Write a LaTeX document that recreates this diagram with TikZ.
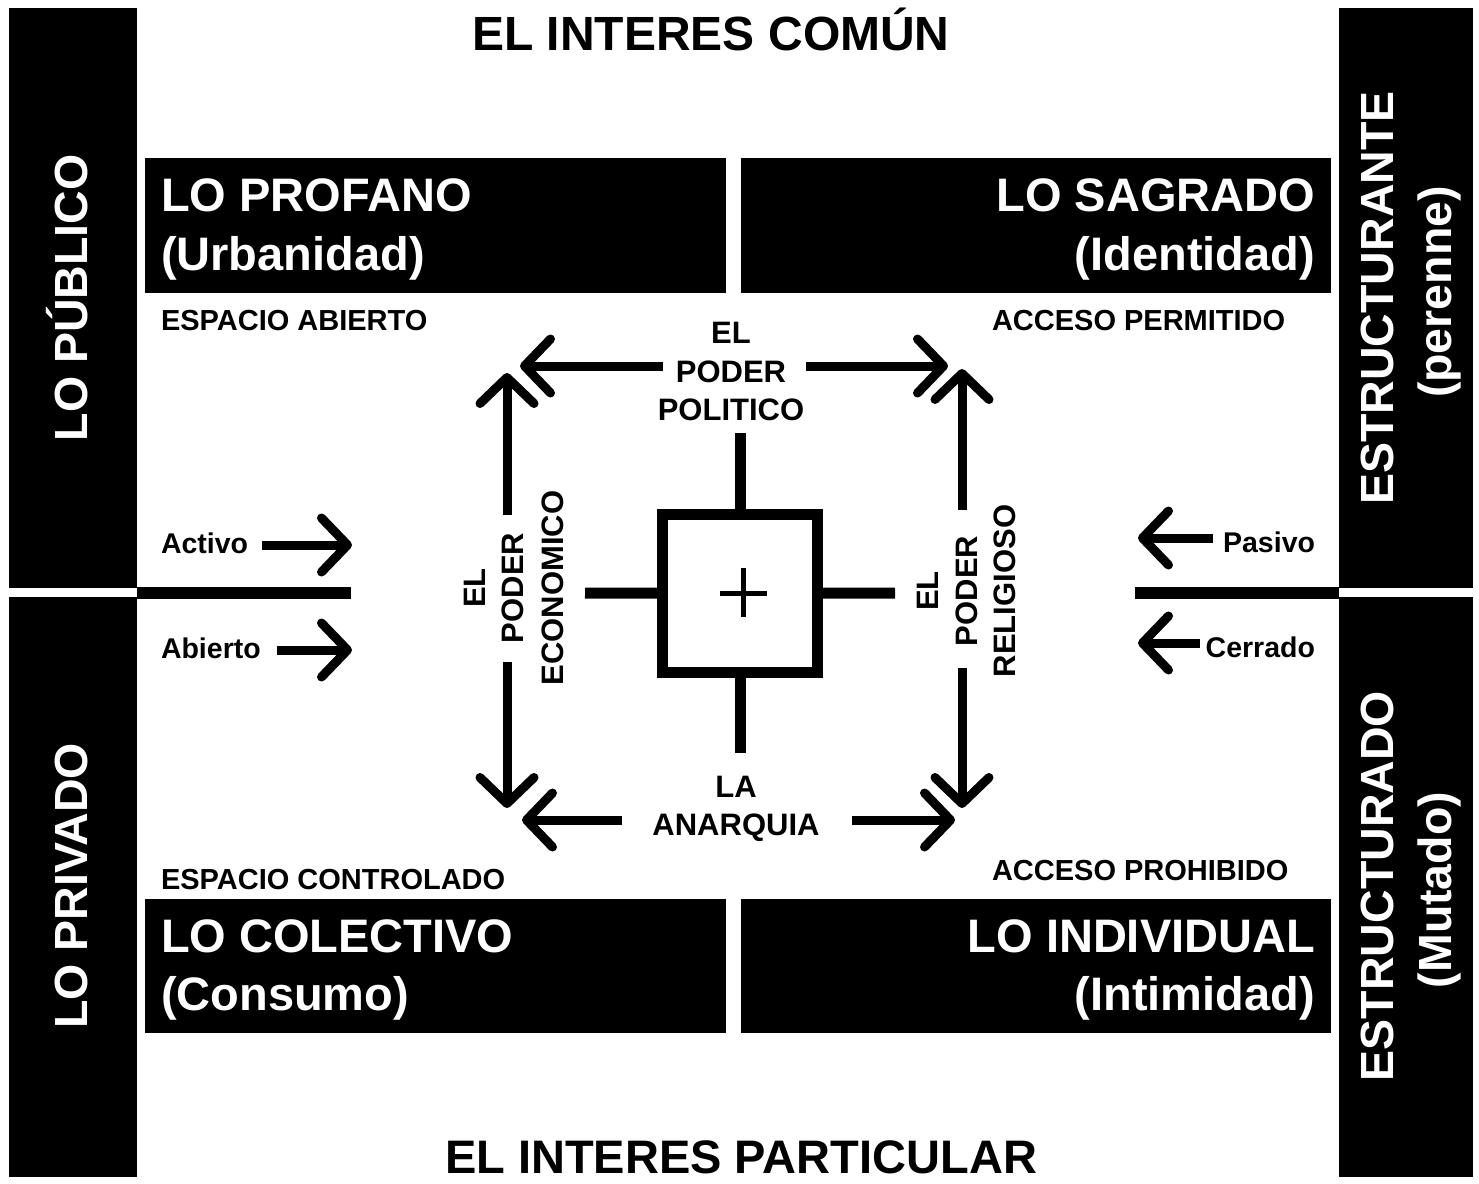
\documentclass[tikz,border=0pt]{standalone}
\usepackage{fontspec}
\setmainfont{Liberation Sans}
\usetikzlibrary{arrows.meta}
\newcommand\fsz[1]{\fontsize{#1}{#1}\selectfont\bfseries}
\begin{document}
\begin{tikzpicture}[x=1pt,y=-1pt,
  every node/.style={inner sep=0pt, outer sep=0pt},
  blk/.style={fill=black, draw=none, anchor=north west},
  big/.style={font=\fsz{47}, text=white},
  bigv/.style={font=\fsz{46.5}, text=white, rotate=90, anchor=base},
  lbl/.style={font=\fsz{29}},
  sml/.style={font=\fsz{28.5}},
  pow/.style={font=\fsz{31}, anchor=base},
  powv/.style={font=\fsz{31}, rotate=90, anchor=base},
  barb/.style={line width=9pt, -{Straight Barb[length=26pt, width=54pt, round]}},
  rule/.style={line width=12pt},
  spoke/.style={line width=11pt}]
\useasboundingbox (0,0) rectangle (1479,1183);
\fill[white] (0,0) rectangle (1479,1183);

% side bars
\node[blk, minimum width=128pt, minimum height=580pt] (barTL) at (9,8) {};
\node[blk, minimum width=128pt, minimum height=580pt] (barBL) at (9,597) {};
\node[blk, minimum width=134pt, minimum height=580pt] (barTR) at (1339,8) {};
\node[blk, minimum width=134pt, minimum height=580pt] (barBR) at (1339,597) {};

\node[bigv] (publico) at (87,298) {LO PÚBLICO};
\node[bigv] (privado) at (87,886) {LO PRIVADO};
\node[bigv] (estante) at (1393,298) {ESTRUCTURANTE};
\node[bigv] (perenne) at (1451,292) {(perenne)};
\node[bigv] (estado) at (1393,886) {ESTRUCTURADO};
\node[bigv] (mutado) at (1451,890) {(Mutado)};

% titles
\node[font=\fsz{48}, anchor=base] (comun) at (711,50) {EL INTERES COMÚN};
\node[font=\fsz{47}, anchor=base] (particular) at (741,1173) {EL INTERES PARTICULAR};

% quadrant boxes
\node[blk, minimum width=581pt, minimum height=135pt] (profano) at (145,158) {};
\node[blk, minimum width=590pt, minimum height=135pt] (sagrado) at (741,158) {};
\node[blk, minimum width=581pt, minimum height=134pt] (colectivo) at (145,899) {};
\node[blk, minimum width=590pt, minimum height=134pt] (individual) at (741,899) {};

\node[big, anchor=base west] (profA) at (161,211) {LO PROFANO};
\node[big, anchor=base west] (profB) at (161,270) {(Urbanidad)};
\node[big, anchor=base east] (sagA) at (1315,211) {LO SAGRADO};
\node[big, anchor=base east] (sagB) at (1315,270) {(Identidad)};
\node[big, anchor=base west] (colA) at (161,952) {LO COLECTIVO};
\node[big, anchor=base west] (colB) at (161,1010) {(Consumo)};
\node[big, anchor=base east] (indA) at (1315,952) {LO INDIVIDUAL};
\node[big, anchor=base east] (indB) at (1315,1010) {(Intimidad)};

\node[lbl, anchor=base west] (espab) at (161,330) {ESPACIO ABIERTO};
\node[lbl, anchor=base west] (accper) at (992,330) {ACCESO PERMITIDO};
\node[lbl, anchor=base west] (espcon) at (161,889) {ESPACIO CONTROLADO};
\node[lbl, anchor=base west] (accpro) at (992,880) {ACCESO PROHIBIDO};

% side labels and arrows
\node[sml, anchor=base west] (activo) at (161,553) {Activo};
\node[sml, anchor=base west] (abierto) at (161,658) {Abierto};
\node[sml, anchor=base east] (pasivo) at (1315,552) {Pasivo};
\node[sml, anchor=base east] (cerrado) at (1315,657) {Cerrado};

\coordinate (actS) at (262,545);  \coordinate (actE) at (352,545);
\coordinate (abiS) at (277,650);  \coordinate (abiE) at (352,650);
\coordinate (pasS) at (1213,538); \coordinate (pasE) at (1138,538);
\coordinate (cerS) at (1200,643); \coordinate (cerE) at (1138,643);
\draw[barb] (actS) -- (actE);
\draw[barb] (abiS) -- (abiE);
\draw[barb] (pasS) -- (pasE);
\draw[barb] (cerS) -- (cerE);

% horizontal rules
\coordinate (ruleL) at (351,593);
\coordinate (ruleR) at (1135,593);
\draw[rule] (barTL.south east |- 0,593) -- (ruleL);
\draw[rule] (barTR.south west |- 0,593) -- (ruleR);

% centre
\node[draw, line width=11pt, minimum width=155pt, minimum height=158.5pt] (core) at (740,593.25) {};
\draw[line width=5pt] (720,593) -- (767,593);
\draw[line width=5pt] (743,568) -- (743,617);
\coordinate (spN) at (740,433);
\coordinate (spS) at (740,753);
\coordinate (spW) at (585,593);
\coordinate (spE) at (895,593);
\draw[spoke] (core.north) -- (spN);
\draw[spoke] (core.south) -- (spS);
\draw[spoke] (core.west) -- (spW);
\draw[spoke] (core.east) -- (spE);

% powers
\node[pow] (polA) at (731,343) {EL};
\node[pow] (polB) at (731,382) {PODER};
\node[pow] (polC) at (731,420) {POLITICO};
\node[pow] (anaA) at (736,797) {LA};
\node[pow] (anaB) at (736,835) {ANARQUIA};
\node[powv] (ecoA) at (485,588) {EL};
\node[powv] (ecoB) at (523,588) {PODER};
\node[powv] (ecoC) at (563,588) {ECONOMICO};
\node[powv] (relA) at (938,591) {EL};
\node[powv] (relB) at (977,591) {PODER};
\node[powv] (relC) at (1015,591) {RELIGIOSO};

\coordinate (tlS) at (663,366); \coordinate (tlE) at (520,366);
\coordinate (trS) at (806,366); \coordinate (trE) at (948,366);
\coordinate (luS) at (507,515); \coordinate (luE) at (507,373);
\coordinate (ldS) at (507,662); \coordinate (ldE) at (507,808);
\coordinate (ruS) at (962,510); \coordinate (ruE) at (962,369);
\coordinate (rdS) at (962,668); \coordinate (rdE) at (962,808);
\coordinate (blS) at (622,820); \coordinate (blE) at (522,820);
\coordinate (brS) at (852,820); \coordinate (brE) at (955,820);
\draw[barb] (tlS) -- (tlE);
\draw[barb] (trS) -- (trE);
\draw[barb] (luS) -- (luE);
\draw[barb] (ldS) -- (ldE);
\draw[barb] (ruS) -- (ruE);
\draw[barb] (rdS) -- (rdE);
\draw[barb] (blS) -- (blE);
\draw[barb] (brS) -- (brE);
\end{tikzpicture}
\end{document}
